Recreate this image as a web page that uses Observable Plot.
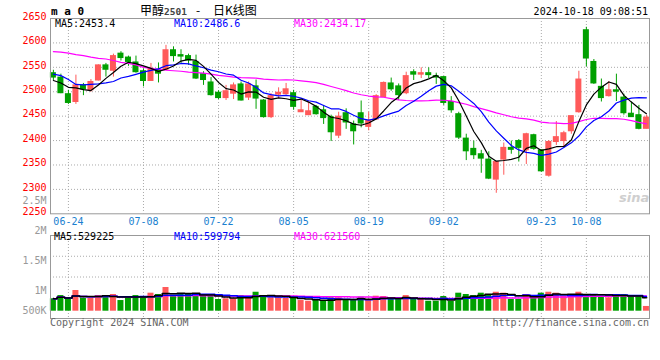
<!DOCTYPE html>
<html><head><meta charset="utf-8">
<script src="https://cdn.jsdelivr.net/npm/d3@7"></script>
<script src="https://cdn.jsdelivr.net/npm/@observablehq/plot@0.6"></script>
<style>
body{margin:0;background:#fff;}
#wrap{position:relative;width:660px;height:360px;background:#fff;overflow:hidden;font-family:"DejaVu Sans Mono",monospace;font-size:10px;color:#000;}
#wrap svg{position:absolute;left:0;top:0;background:transparent !important;}
.t{position:absolute;white-space:nowrap;line-height:12px;}
</style></head><body>
<div id="wrap">
  <div class="t" style="left:51px;top:6px;font-weight:bold;font-size:11px;">m a 0</div>
  <div class="t" style="left:140px;top:3px;font-family:'Noto Sans CJK SC';font-size:12px;line-height:14px;">甲醇<span style="font-family:'DejaVu Sans Mono';font-weight:bold;font-size:9.5px;color:#444;">2501</span></div>
  <div class="t" style="left:196px;top:3px;font-family:'Noto Sans CJK SC';font-size:12px;line-height:14px;">-</div>
  <div class="t" style="left:213px;top:3px;font-family:'Noto Sans CJK SC';font-size:12px;line-height:14px;">日K线图</div>
  <div class="t" style="right:12px;top:6px;">2024-10-18 09:08:51</div>
  <div class="t" style="left:55px;top:18px;color:#000;">MA5:2453.4</div>
  <div class="t" style="left:174px;top:18px;color:#00f;">MA10:2486.6</div>
  <div class="t" style="left:294px;top:18px;color:#f0f;">MA30:2434.17</div>
  <div class="t" style="left:54px;top:231px;color:#000;">MA5:529225</div>
  <div class="t" style="left:174px;top:231px;color:#00f;">MA10:599794</div>
  <div class="t" style="left:294px;top:231px;color:#f0f;">MA30:621560</div>
  <div class="t" style="left:50px;top:317px;color:#666;">Copyright 2024 SINA.COM</div>
  <div class="t" style="right:11px;top:317px;color:#666;">http://finance.sina.com.cn</div>
  <div class="t" style="left:619px;top:192px;color:#cfcfcf;font-family:'DejaVu Sans';font-weight:bold;font-style:italic;font-size:13px;">sina</div>
</div>
<script>
const dates = ["06-20","06-21","06-24","06-25","06-26","06-27","06-28","07-01","07-02","07-03","07-04","07-05","07-08","07-09","07-10","07-11","07-12","07-15","07-16","07-17","07-18","07-19","07-22","07-23","07-24","07-25","07-26","07-29","07-30","07-31","08-01","08-02","08-05","08-06","08-07","08-08","08-09","08-12","08-13","08-14","08-15","08-16","08-19","08-20","08-21","08-22","08-23","08-26","08-27","08-28","08-29","08-30","09-02","09-03","09-04","09-05","09-06","09-09","09-10","09-11","09-12","09-13","09-18","09-19","09-20","09-23","09-24","09-25","09-26","09-27","09-30","10-08","10-09","10-10","10-11","10-14","10-15","10-16","10-17","10-18"];
const open  = [2538,2529,2495,2479,2513,2503,2523,2554,2543,2578,2570,2560,2542,2522,2545,2545,2585,2575,2573,2561,2536,2519,2498,2487,2496,2515,2488,2511,2482,2448,2494,2495,2497,2458,2452,2469,2462,2448,2410,2456,2433,2456,2428,2443,2489,2517,2511,2497,2540,2535,2538,2532,2530,2479,2454,2404,2383,2372,2361,2320,2361,2385,2399,2380,2411,2380,2328,2397,2399,2419,2458,2626,2561,2510,2491,2503,2488,2455,2452,2424];
const high  = [2544,2536,2503,2534,2517,2525,2555,2558,2577,2582,2573,2573,2547,2558,2559,2595,2592,2586,2577,2575,2541,2529,2502,2513,2518,2520,2520,2524,2484,2496,2508,2517,2503,2482,2479,2472,2472,2452,2458,2465,2440,2481,2458,2494,2520,2528,2516,2540,2545,2549,2549,2538,2531,2490,2458,2413,2399,2380,2377,2356,2395,2399,2402,2415,2413,2381,2400,2439,2419,2450,2542,2632,2566,2526,2521,2536,2495,2479,2472,2452];
const low   = [2523,2496,2474,2474,2492,2499,2522,2530,2530,2563,2552,2538,2510,2521,2518,2544,2561,2558,2554,2525,2513,2491,2484,2482,2484,2481,2482,2464,2446,2445,2486,2493,2462,2458,2452,2452,2433,2398,2404,2423,2391,2426,2420,2442,2489,2501,2482,2494,2523,2527,2527,2515,2472,2456,2402,2359,2361,2333,2320,2292,2329,2372,2356,2351,2380,2335,2325,2390,2385,2413,2456,2551,2515,2479,2489,2480,2452,2448,2422,2424];
const close = [2529,2497,2477,2513,2505,2520,2554,2545,2573,2569,2561,2540,2522,2547,2537,2585,2573,2572,2564,2527,2524,2493,2487,2501,2513,2482,2515,2486,2448,2491,2498,2505,2469,2462,2460,2454,2446,2417,2449,2437,2419,2435,2440,2491,2518,2505,2493,2532,2535,2538,2534,2529,2477,2462,2406,2378,2370,2363,2322,2356,2385,2381,2385,2413,2383,2337,2397,2407,2415,2450,2525,2568,2517,2487,2503,2500,2456,2448,2424,2447];
const volume = [523000,660000,494000,873000,550000,550000,660000,620000,705000,450000,
  550000,660000,620000,760000,705000,1000000,620000,705000,705000,745000,
  620000,620000,494000,523000,523000,660000,620000,800000,660000,565000,
  565000,550000,565000,450000,420000,450000,450000,565000,565000,450000,
  450000,590000,450000,633000,620000,494000,494000,660000,494000,494000,
  420000,420000,620000,420000,760000,705000,660000,760000,705000,800000,
  760000,494000,494000,705000,590000,760000,800000,760000,620000,620000,
  800000,705000,705000,620000,565000,705000,705000,620000,620000,200000];
const ma5 = [2523,2518,2509,2508,2504.2,2502.4,2513.8,2527.4,2539.4,2552.2,
  2560.4,2557.6,2553,2547.8,2541.4,2546.2,2552.8,2562.8,2566.2,2564.2,
  2552,2536,2519,2506.4,2503.6,2495.2,2499.6,2499.4,2488.8,2484.4,
  2487.6,2485.6,2482.2,2485,2478.8,2470,2458.2,2447.8,2445.2,2440.6,
  2433.6,2431.4,2436,2444.4,2460.6,2477.8,2489.4,2507.8,2516.6,2520.6,
  2526.4,2533.6,2522.6,2508,2481.6,2450.4,2418.6,2395.8,2367.8,2357.8,
  2359.2,2361.4,2365.8,2384,2389.4,2379.8,2383,2387.4,2387.8,2401.2,
  2438.8,2473,2495,2509.4,2520,2515,2492.6,2478.8,2466.2,2455];
const ma10 = [2536,2533,2525,2515,2514,2515,2516,2518,2521,2528.2,
  2531.4,2535.7,2540.2,2543.6,2546.8,2553.3,2555.2,2557.9,2557,2552.8,
  2549.1,2544.4,2540.9,2536.3,2533.9,2523.6,2517.8,2509.2,2497.6,2494,
  2491.4,2492.6,2490.8,2486.9,2481.6,2478.8,2471.9,2465,2465.1,2459.7,
  2451.8,2444.8,2441.9,2444.8,2450.6,2455.7,2460.4,2471.9,2480.5,2490.6,
  2502.1,2511.5,2515.2,2512.3,2501.1,2488.4,2476.1,2459.2,2437.9,2419.7,
  2404.8,2390,2380.8,2375.9,2373.6,2369.5,2372.2,2376.6,2385.9,2395.3,
  2409.3,2428,2441.2,2448.6,2460.6,2476.9,2482.8,2486.9,2487.8,2487.5];
const ma30 = [2582,2581,2579,2576,2574,2571,2568.5,2567,2564,2560,
  2558,2555,2550,2548,2546,2544,2543,2542,2540,2539,
  2538,2536,2533.5,2532,2530,2529,2528.5,2528,2526,2525,
  2524,2524.2,2524,2522.3,2520.8,2518.6,2515,2510.7,2506.6,2502.2,
  2497.4,2493.9,2491.2,2489.3,2488.7,2486,2483.4,2482,2481.1,2481.4,
  2481.8,2483,2482.6,2481.3,2477.8,2474.3,2469.5,2465.4,2461.2,2456.7,
  2452.9,2448.8,2446,2444.3,2441.8,2437.9,2436.2,2435.9,2434.8,2435.2,
  2438.7,2443.2,2445.7,2445.6,2445.1,2444.9,2443.7,2440.9,2437.2,2434.2];
const tickDates = ["06-24","07-08","07-22","08-05","08-19","09-02","09-23","10-08"];
const priceTicks = [2250,2300,2350,2400,2450,2500,2550,2600,2650];
const priceGrid = [2300,2350,2400,2450,2500,2550,2600];
const volTickValues = [500000,1000000,1500000,2000000,2500000];
const volTickLabels = ["500K","1M","1.5M","2M","2.5M"];

const rows = dates.map((d, i) => ({i, date: d, open: open[i], high: high[i], low: low[i], close: close[i], vol: volume[i], ma5: ma5[i], ma10: ma10[i], ma30: ma30[i]}));
const up = rows.filter(r => r.close >= r.open);
const down = rows.filter(r => r.close < r.open);
const tickIdx = tickDates.map(t => dates.indexOf(t));
const RED = "#ff5a5a", GREEN = "#00a000", GRID = "#aaaaaa";
const xDomain = [-0.386, 79.41];
const FONT = "DejaVu Sans Mono, monospace";
const baseStyle = {background: "transparent", fontFamily: FONT, fontSize: "10px", overflow: "visible"};
const bodyX = {x1: d => d.i - 0.4, x2: d => d.i + 0.4};

const vgrid = Plot.plot({
  width: 660, height: 360, marginLeft: 50, marginRight: 11, marginTop: 235, marginBottom: 42,
  style: baseStyle,
  x: {type: "linear", domain: xDomain, axis: null},
  y: {type: "linear", domain: [0, 4], axis: null},
  marks: [
    Plot.ruleY([1, 2, 3], {stroke: GRID, strokeDasharray: "1,2"})
  ]
});

const vol = Plot.plot({
  width: 660, height: 360, marginLeft: 50, marginRight: 11, marginTop: 235, marginBottom: 42,
  style: baseStyle,
  x: {type: "linear", domain: xDomain, axis: null},
  y: {type: "linear", domain: [-308000, 3194000], axis: null},
  marks: [
    Plot.ruleX(tickIdx, {stroke: GRID, strokeDasharray: "1,2"}),
    Plot.rect(up, {...bodyX, y1: 0, y2: "vol", fill: RED}),
    Plot.rect(down, {...bodyX, y1: 0, y2: "vol", fill: GREEN}),
    Plot.lineY(rows, Plot.windowY({k: 30, anchor: "end", reduce: "mean"}, {x: "i", y: "vol", stroke: "#f0f", strokeWidth: 1.5, curve: "step"})),
    Plot.lineY(rows, Plot.windowY({k: 10, anchor: "end", reduce: "mean"}, {x: "i", y: "vol", stroke: "#00f", strokeWidth: 1.5, curve: "step"})),
    Plot.lineY(rows, Plot.windowY({k: 5, anchor: "end", reduce: "mean"}, {x: "i", y: "vol", stroke: "#000", strokeWidth: 1.5, curve: "step"})),
    Plot.frame({stroke: "#999"})
  ]
});

const vaxis = Plot.plot({
  width: 660, height: 360, marginLeft: 50, marginRight: 11, marginTop: 0, marginBottom: 0,
  style: baseStyle,
  y: {type: "linear", domain: [500000, 1000000, 2500000], range: [310.7, 290.7, 200.7]},
  marks: [
    Plot.axisY({ticks: volTickValues, tickFormat: d => volTickLabels[volTickValues.indexOf(d)], tickSize: 0, tickPadding: 4, fill: "#999", fontSize: 10, fontFamily: FONT, label: null})
  ]
});

const price = Plot.plot({
  width: 660, height: 360, marginLeft: 50, marginRight: 11, marginTop: 18, marginBottom: 146.7,
  style: baseStyle,
  x: {type: "linear", domain: xDomain, label: null},
  y: {type: "linear", domain: [2250, 2650], label: null},
  marks: [
    Plot.ruleY(priceGrid, {stroke: GRID, strokeDasharray: "1,2"}),
    Plot.ruleX(tickIdx, {stroke: GRID, strokeDasharray: "1,2"}),
    Plot.ruleX(up, {x: "i", y1: "low", y2: "high", stroke: RED}),
    Plot.ruleX(down, {x: "i", y1: "low", y2: "high", stroke: GREEN}),
    Plot.rect(up, {...bodyX, y1: "open", y2: "close", fill: RED, insetTop: -0.5, insetBottom: -0.5}),
    Plot.rect(down, {...bodyX, y1: "open", y2: "close", fill: GREEN, insetTop: -0.5, insetBottom: -0.5}),
    Plot.line(rows, {x: "i", y: "ma30", stroke: "#f0f", strokeWidth: 1.2}),
    Plot.line(rows, {x: "i", y: "ma10", stroke: "#00f", strokeWidth: 1.2}),
    Plot.line(rows, {x: "i", y: "ma5", stroke: "#000", strokeWidth: 1.2}),
    Plot.frame({stroke: "#999"}),
    Plot.axisY({ticks: priceTicks, tickFormat: "d", tickSize: 0, tickPadding: 4, fill: "#f00", dy: -2, fontSize: 10, fontFamily: FONT, label: null}),
    Plot.axisX({ticks: tickIdx, tickFormat: i => dates[i], tickSize: 0, tickPadding: 4.5, fill: "#1a7fd0", fontSize: 10, fontFamily: FONT, label: null})
  ]
});

const wrap = document.getElementById("wrap");
const first = wrap.firstChild;
[vgrid, vol, vaxis, price].forEach(s => wrap.insertBefore(s, first));
</script>
</body></html>
